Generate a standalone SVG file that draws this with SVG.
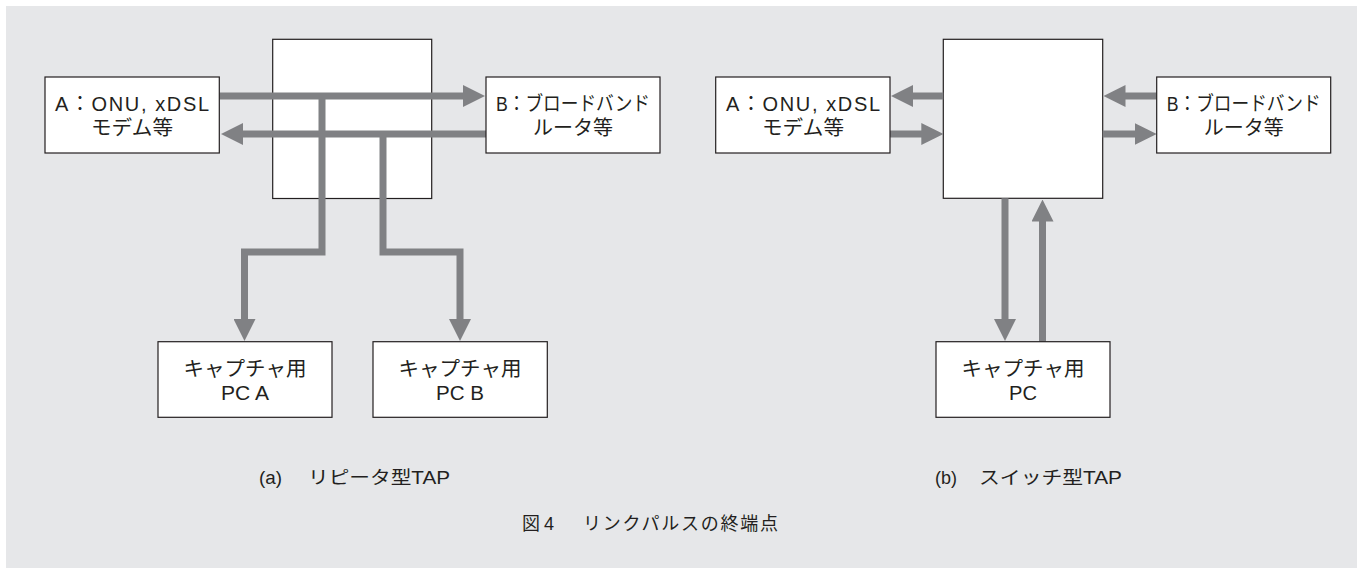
<svg xmlns="http://www.w3.org/2000/svg" width="1357" height="568" viewBox="0 0 1357 568">
<defs>
<style>
.bg{fill:#e6e7e9}
.box{fill:#ffffff;stroke:#231f20;stroke-width:1.2}
.t{font-family:"Liberation Sans","Noto Sans CJK JP",sans-serif;font-size:20px;fill:#231f20;text-anchor:middle}
.cap{font-family:"Liberation Sans","Noto Sans CJK JP",sans-serif;font-size:18px;fill:#231f20}
.sq{}
.arr{fill:none;stroke:#808184;stroke-width:7;stroke-linejoin:miter;stroke-linecap:butt;marker-end:url(#ah)}
</style>
<marker id="ah" markerUnits="userSpaceOnUse" markerWidth="22" markerHeight="22" refX="12" refY="11" orient="auto" viewBox="0 0 22 22">
<path d="M0,0 L22,11 L0,22 z" fill="#808184"/>
</marker>
</defs>
<rect class="bg" x="6" y="6" width="1351" height="562"/>

<g id="tapA">
<rect class="box" x="272.7" y="39.3" width="159" height="159.2"/>
</g>
<g id="tapB">
<rect class="box" x="943.3" y="39.3" width="159.4" height="159"/>
</g>

<g id="connectors">
<path class="arr" d="M219.5,96 H475"/>
<path class="arr" d="M486,134 H231"/>
<path class="arr" d="M322,96 V252 H244.5 V331"/>
<path class="arr" d="M383,134 V252 H460 V331"/>
<path class="arr" d="M943.3,96 H901"/>
<path class="arr" d="M890,134 H933.3"/>
<path class="arr" d="M1156.7,96 H1113.5"/>
<path class="arr" d="M1102.7,134 H1146.7"/>
<path class="arr" d="M1005,198.3 V331"/>
<path class="arr" d="M1042.5,341.7 V209.5"/>
</g>

<g id="nodeA_a">
<rect class="box" x="45" y="77" width="174.3" height="76"/>
<text class="t" x="132" y="111" textLength="154">A：ONU, xDSL</text>
<text class="t" x="132" y="135" textLength="82" lengthAdjust="spacingAndGlyphs">モデム等</text>
</g>
<g id="nodeB_a">
<rect class="box" x="486" y="77" width="174" height="76"/>
<text class="t" x="573" y="111" textLength="154" lengthAdjust="spacingAndGlyphs">B：ブロードバンド</text>
<text class="t" x="573" y="135" textLength="80" lengthAdjust="spacingAndGlyphs">ルータ等</text>
</g>
<g id="pcA">
<rect class="box" x="158" y="341.7" width="174" height="75.6"/>
<text class="t" x="245" y="376" textLength="123" lengthAdjust="spacingAndGlyphs">キャプチャ用</text>
<text class="t" x="245" y="400" textLength="48" lengthAdjust="spacingAndGlyphs">PC A</text>
</g>
<g id="pcB">
<rect class="box" x="373" y="341.7" width="174.3" height="75.6"/>
<text class="t" x="460" y="376" textLength="123" lengthAdjust="spacingAndGlyphs">キャプチャ用</text>
<text class="t" x="460" y="400" textLength="48" lengthAdjust="spacingAndGlyphs">PC B</text>
</g>

<g id="nodeA_b">
<rect class="box" x="715.7" y="77" width="174.3" height="76"/>
<text class="t" x="803" y="111" textLength="154">A：ONU, xDSL</text>
<text class="t" x="803" y="135" textLength="82" lengthAdjust="spacingAndGlyphs">モデム等</text>
</g>
<g id="nodeB_b">
<rect class="box" x="1156.7" y="77" width="174" height="76"/>
<text class="t" x="1243.7" y="111" textLength="154" lengthAdjust="spacingAndGlyphs">B：ブロードバンド</text>
<text class="t" x="1243.7" y="135" textLength="80" lengthAdjust="spacingAndGlyphs">ルータ等</text>
</g>
<g id="pc_b">
<rect class="box" x="936" y="341.7" width="174" height="75.6"/>
<text class="t" x="1023" y="376" textLength="123" lengthAdjust="spacingAndGlyphs">キャプチャ用</text>
<text class="t" x="1023" y="400" textLength="28" lengthAdjust="spacingAndGlyphs">PC</text>
</g>

<g id="captions">
<text class="cap" y="484"><tspan x="259" textLength="23" lengthAdjust="spacingAndGlyphs">(a)</tspan><tspan x="308" textLength="142" lengthAdjust="spacingAndGlyphs">リピータ型TAP</tspan></text>
<text class="cap" y="484"><tspan x="935" textLength="22" lengthAdjust="spacingAndGlyphs">(b)</tspan><tspan x="979" textLength="143" lengthAdjust="spacingAndGlyphs">スイッチ型TAP</tspan></text>
<text class="cap" y="530"><tspan x="522" textLength="32">図 4</tspan><tspan x="583" textLength="195">リンクパルスの終端点</tspan></text>
</g>
</svg>
